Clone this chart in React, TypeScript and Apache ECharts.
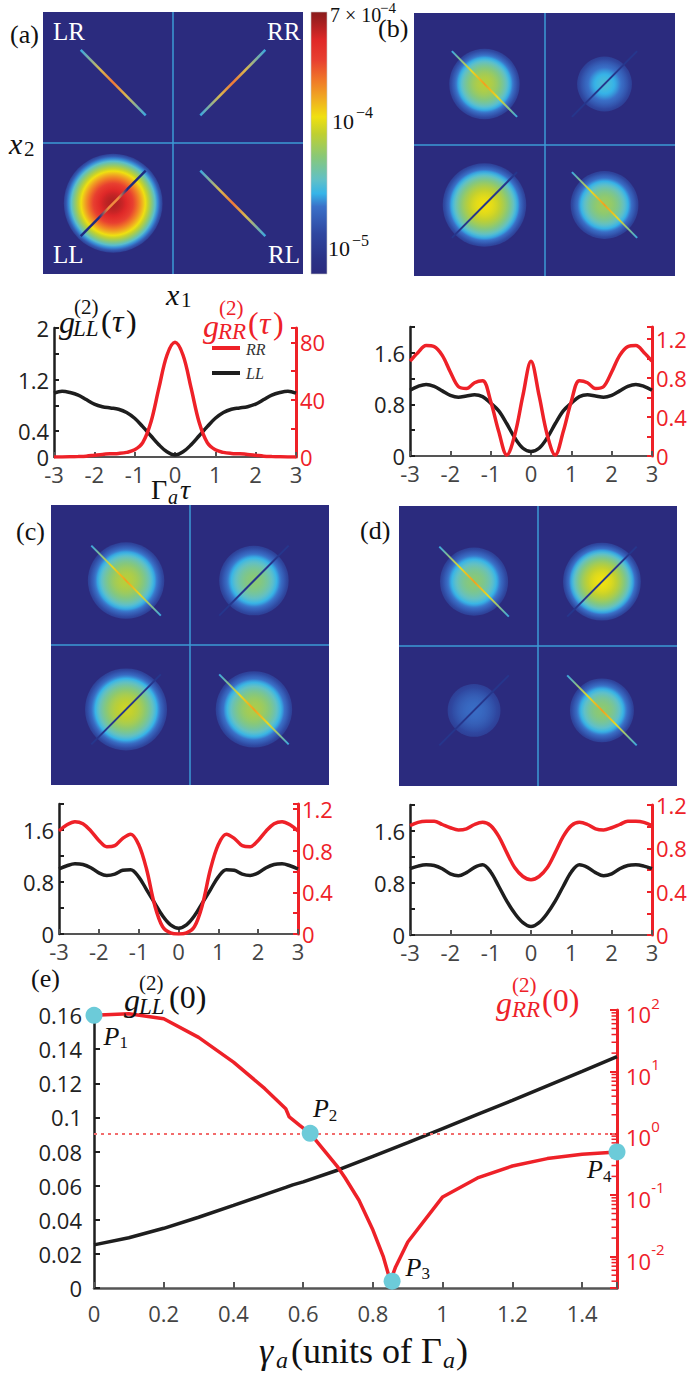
import React, { useEffect, useRef } from 'react';
import * as echarts from 'echarts';

// ---------------- data ----------------
const TAU = [-3, -2.8, -2.6, -2.4, -2.2, -2, -1.8, -1.6, -1.4, -1.2, -1, -0.8, -0.6, -0.4, -0.2, 0, 0.2, 0.4, 0.6, 0.8, 1, 1.2, 1.4, 1.6, 1.8, 2, 2.2, 2.4, 2.6, 2.8, 3];

// panel (a) g2 curves
const LL_A = [0.99, 1.02, 1.0, 0.96, 0.89, 0.82, 0.78, 0.76, 0.74, 0.69, 0.6, 0.47, 0.33, 0.19, 0.08, 0.03, 0.08, 0.19, 0.33, 0.47, 0.6, 0.69, 0.74, 0.76, 0.78, 0.82, 0.89, 0.96, 1.0, 1.02, 0.99];
const RR_A = [0, 0, 0.1, 0.3, 0.6, 1.2, 1.8, 2.2, 2.5, 3.2, 5, 10, 24, 48, 71, 80, 71, 48, 24, 10, 5, 3.2, 2.5, 2.2, 1.8, 1.2, 0.6, 0.3, 0.1, 0, 0];
// panel (b)
const LL_B = [1.02, 1.08, 1.11, 1.08, 1.01, 0.94, 0.91, 0.93, 0.95, 0.92, 0.82, 0.7, 0.5, 0.28, 0.12, 0.07, 0.12, 0.28, 0.5, 0.7, 0.82, 0.92, 0.95, 0.93, 0.91, 0.94, 1.01, 1.08, 1.11, 1.08, 1.02];
const RR_B = [0.97, 1.06, 1.13, 1.12, 1.03, 0.86, 0.71, 0.69, 0.75, 0.77, 0.56, 0.25, 0.01, 0.22, 0.62, 0.97, 0.62, 0.22, 0.01, 0.25, 0.56, 0.77, 0.75, 0.69, 0.71, 0.86, 1.03, 1.12, 1.13, 1.06, 0.97];
// panel (c)
const LL_C = [1.0, 1.05, 1.08, 1.07, 1.02, 0.94, 0.9, 0.92, 0.98, 0.99, 0.88, 0.68, 0.48, 0.28, 0.14, 0.09, 0.14, 0.28, 0.48, 0.68, 0.88, 0.99, 0.98, 0.92, 0.9, 0.94, 1.02, 1.07, 1.08, 1.05, 1.0];
const RR_C = [0.99, 1.05, 1.08, 1.06, 0.99, 0.9, 0.84, 0.85, 0.92, 0.96, 0.86, 0.62, 0.28, 0.07, 0.01, 0.0, 0.01, 0.07, 0.28, 0.62, 0.86, 0.96, 0.92, 0.85, 0.84, 0.9, 0.99, 1.06, 1.08, 1.05, 0.99];
// panel (d)
const LL_D = [1.02, 1.06, 1.08, 1.07, 1.02, 0.94, 0.91, 0.96, 1.04, 1.08, 0.97, 0.75, 0.52, 0.33, 0.19, 0.13, 0.19, 0.33, 0.52, 0.75, 0.97, 1.08, 1.04, 0.96, 0.91, 0.94, 1.02, 1.07, 1.08, 1.06, 1.02];
const RR_D = [1.01, 1.04, 1.05, 1.05, 1.02, 0.99, 0.97, 0.98, 1.02, 1.04, 1.01, 0.91, 0.76, 0.62, 0.54, 0.51, 0.54, 0.62, 0.76, 0.91, 1.01, 1.04, 1.02, 0.98, 0.97, 0.99, 1.02, 1.05, 1.05, 1.04, 1.01];

const RIGHT_MAX = [90, 1.32, 1.25, 1.2];
const RIGHT_INTERVAL = [20, 0.2, 0.2, 0.2];
const RIGHT_LABELS = [[0, 40, 80], [0, 0.4, 0.8, 1.2], [0, 0.4, 0.8, 1.2], [0, 0.4, 0.8, 1.2]];
const LEFT_LABELS = [[0, 0.4, 1.2, 2], [0, 0.8, 1.6], [0, 0.8, 1.6], [0, 0.8, 1.6]];
const X_TICKS_TAU = [-3, -2, -1, 0, 1, 2, 3];

// panel (e)
const GAMMA_RR = [0, 0.1, 0.2, 0.3, 0.4, 0.49, 0.55, 0.56, 0.59, 0.62, 0.66, 0.7, 0.72, 0.76, 0.8, 0.83, 0.85, 0.865, 0.9, 1.0, 1.1, 1.2, 1.3, 1.4, 1.5];
const G2_RR0 = [82, 87, 72, 36, 14.3, 5.3, 2.5, 1.84, 1.35, 1.0, 0.53, 0.28, 0.19, 0.082, 0.027, 0.0099, 0.004, 0.0068, 0.0173, 0.093, 0.189, 0.295, 0.389, 0.457, 0.5];
const GAMMA_LL = [0, 0.1, 0.2, 0.3, 0.4, 0.5, 0.55, 0.57, 0.6, 0.7, 0.8, 0.9, 1.0, 1.1, 1.2, 1.3, 1.4, 1.5];
const G2_LL0 = [0.0253, 0.0295, 0.035, 0.0415, 0.0484, 0.0555, 0.059, 0.0605, 0.0622, 0.0692, 0.0772, 0.0852, 0.0935, 0.1018, 0.11, 0.1185, 0.127, 0.1356];
const P_NAMES = ['1', '2', '3', '4'];
const P_GAMMA = [0, 0.62, 0.855, 1.5];
const P_RR = [82, 1.0, 0.004, 0.5];
const REF_LEVEL = 1;
// minor tick positions of the right log axis of (e)
const RR_MINOR_TICKS = [
  0.004, 0.005, 0.006, 0.007, 0.008, 0.009,
  0.02, 0.03, 0.04, 0.05, 0.06, 0.07, 0.08, 0.09,
  0.2, 0.3, 0.4, 0.5, 0.6, 0.7, 0.8, 0.9,
  2, 3, 4, 5, 6, 7, 8, 9,
  20, 30, 40, 50, 60, 70, 80, 90,
];

// heat maps: quadrants LR, RR, LL, RL
const BLOB_X = [-0.46, 0.46, -0.46, 0.46];
const BLOB_Y = [0.46, 0.46, -0.46, -0.46];
const PEAKS = [
  [0, 0, 5.5e-4, 0],
  [7.5e-5, 3.1e-5, 1.08e-4, 6.2e-5],
  [7.5e-5, 5.4e-5, 8.6e-5, 6.8e-5],
  [5.4e-5, 1.08e-4, 2.1e-5, 5.6e-5],
];
const RADII = [
  [0, 0, 0.38, 0],
  [0.27, 0.21, 0.32, 0.26],
  [0.275, 0.25, 0.295, 0.275],
  [0.245, 0.28, 0.19, 0.23],
];
const STREAK_KIND = [
  ['bright', 'bright', 'mixed', 'bright'],
  ['bright', 'dark', 'dark', 'bright'],
  ['bright', 'dark', 'dark', 'bright'],
  ['bright', 'dark', 'dark', 'bright'],
];
const STREAK_HALF = 0.25;
const EDGE_DENSITY = 1.16e-5;
const CBAR_MIN = 6.6e-6;
const CBAR_MAX = 7e-4;

// ---------------- style ----------------
const SERIF = '"Liberation Serif", "DejaVu Serif", serif';
const SANS = '"Open Sans", "Noto Sans", sans-serif';
const RED = '#ee2128';
const BLACK = '#1e1e1e';
const GREY = '#555555';
const BG = '#2b2b7e';
const CYAN = '#6ccbd9';
const CMAP: [number, string][] = [
  [0, '#2b2b7e'], [0.06, '#2b3387'], [0.155, '#2f47a0'], [0.257, '#3a70c8'], [0.307, '#36b4e8'],
  [0.358, '#60c0c8'], [0.447, '#88c878'], [0.536, '#c0d030'], [0.6, '#f0e010'], [0.663, '#f0b020'],
  [0.74, '#f07828'], [0.816, '#e84030'], [0.892, '#e02828'], [0.968, '#a01f20'], [1, '#8a1c1c'],
];

const HEAT_GRIDS = [
  { left: 43, top: 12, width: 260, height: 262 },
  { left: 414, top: 13, width: 261, height: 263 },
  { left: 51, top: 505, width: 278, height: 280 },
  { left: 399, top: 506, width: 278, height: 280 },
];
const LINE_GRIDS = [
  { left: 54, top: 328, width: 242, height: 129 },
  { left: 410, top: 327, width: 242, height: 129 },
  { left: 59, top: 804, width: 239, height: 130 },
  { left: 410, top: 805, width: 242, height: 130 },
];
const E_GRID = { left: 94, top: 1010, width: 523, height: 278 };

function hexRgb(h: string) {
  return [parseInt(h.slice(1, 3), 16), parseInt(h.slice(3, 5), 16), parseInt(h.slice(5, 7), 16)];
}
function cmap(f: number) {
  const t = Math.max(0, Math.min(1, f));
  for (let i = 1; i < CMAP.length; i++) {
    if (t <= CMAP[i][0]) {
      const [a, ca] = CMAP[i - 1];
      const [b, cb] = CMAP[i];
      const u = (t - a) / (b - a);
      const A = hexRgb(ca), B = hexRgb(cb);
      return `rgb(${Math.round(A[0] + (B[0] - A[0]) * u)},${Math.round(A[1] + (B[1] - A[1]) * u)},${Math.round(A[2] + (B[2] - A[2]) * u)})`;
    }
  }
  return CMAP[CMAP.length - 1][1];
}
function fOf(v: number) {
  return (Math.log10(v) - Math.log10(CBAR_MIN)) / (Math.log10(CBAR_MAX) - Math.log10(CBAR_MIN));
}
function blobGradient(peak: number) {
  const fp = fOf(peak), fe = fOf(EDGE_DENSITY);
  const stops = [];
  for (let i = 0; i <= 20; i++) {
    const t = i / 20;
    stops.push({ offset: t, color: cmap(fp - (fp - fe) * t * t) });
  }
  return new echarts.graphic.RadialGradient(0.5, 0.5, 0.5, stops);
}
function streakColor(kind: string, big: boolean) {
  if (kind === 'dark') return '#26368c';
  if (kind === 'mixed')
    return new echarts.graphic.LinearGradient(0, 0, 1, 0, [
      { offset: 0, color: '#1e2a80' }, { offset: 0.28, color: '#1e2a80' }, { offset: 0.42, color: '#f08a40' },
      { offset: 0.58, color: '#f08a40' }, { offset: 0.72, color: '#1e2a80' }, { offset: 1, color: '#1e2a80' },
    ]);
  return new echarts.graphic.LinearGradient(0, 0, 1, 0, [
    { offset: 0, color: '#3aa8e0' }, { offset: 0.3, color: big ? '#d8b850' : '#e8d820' },
    { offset: 0.5, color: big ? '#f07838' : '#f0a020' }, { offset: 0.7, color: big ? '#d8b850' : '#e8d820' },
    { offset: 1, color: '#3aa8e0' },
  ]);
}

type Part = [string, number, number, number, boolean?, string?];
function mtext(x: number, y: number, parts: Part[], fill: string) {
  return {
    type: 'group', x, y, silent: true, z: 100,
    children: parts.map((p) => ({
      type: 'text', x: p[1], y: p[2], z: 100,
      style: {
        text: p[0], fontSize: p[3], fontStyle: p[4] ? 'italic' : 'normal', fontFamily: p[5] || SERIF,
        fill, align: 'left', verticalAlign: 'middle',
      },
    })),
  };
}
const fmt = (v: number) => String(+v.toFixed(3));

function buildOption() {
  const grid: any[] = [];
  const xAxis: any[] = [];
  const yAxis: any[] = [];
  const series: any[] = [];

  // heat maps
  HEAT_GRIDS.forEach((g, k) => {
    grid.push({ ...g, show: true, backgroundColor: BG, borderWidth: 0 });
    xAxis.push({ type: 'value', gridIndex: k, min: -1, max: 1, show: false });
    yAxis.push({ type: 'value', gridIndex: k, min: -1, max: 1, show: false });
    const data: any[] = [];
    PEAKS[k].forEach((p, i) => {
      if (p > 0)
        data.push({
          value: [BLOB_X[i], BLOB_Y[i], p],
          symbolSize: RADII[k][i] * g.width,
          itemStyle: { color: blobGradient(p), opacity: 1 },
        });
    });
    series.push({
      type: 'scatter', xAxisIndex: k, yAxisIndex: k, silent: true, data, z: 2,
      markLine: {
        silent: true, symbol: ['none', 'none'], label: { show: false },
        lineStyle: { color: '#3d9bd6', width: 1.5, type: 'solid' },
        data: [{ xAxis: 0 }, { yAxis: 0 }],
      },
    });
    STREAK_KIND[k].forEach((kind, i) => {
      const cx = BLOB_X[i], cy = BLOB_Y[i], h = STREAK_HALF;
      const back = i === 0 || i === 3; // "\" direction
      const pts = back ? [[cx - h, cy + h], [cx + h, cy - h]] : [[cx - h, cy - h], [cx + h, cy + h]];
      series.push({
        type: 'line', xAxisIndex: k, yAxisIndex: k, silent: true, z: 3, symbol: 'none',
        data: pts, lineStyle: { width: k === 0 ? 2.5 : 2, color: streakColor(kind, k === 0) },
      });
    });
  });

  // small g2(tau) plots
  const LLS = [LL_A, LL_B, LL_C, LL_D];
  const RRS = [RR_A, RR_B, RR_C, RR_D];
  LINE_GRIDS.forEach((g, j) => {
    const gi = 4 + j;
    grid.push({ ...g });
    xAxis.push({
      type: 'value', gridIndex: gi, min: -3, max: 3, interval: 1,
      axisLine: { onZero: false, lineStyle: { color: GREY, width: 2 } },
      axisTick: { inside: true, length: 5, lineStyle: { color: GREY, width: 2 } },
      axisLabel: {
        color: '#444', fontFamily: SANS, fontSize: 22, margin: 6,
        formatter: (v: number) => (X_TICKS_TAU.includes(Math.round(v)) ? String(Math.round(v)) : ''),
      },
      splitLine: { show: false },
    });
    yAxis.push({
      type: 'value', gridIndex: gi, min: 0, max: 2, interval: 0.4, position: 'left',
      axisLine: { show: true, onZero: false, lineStyle: { color: BLACK, width: 2.5 } },
      axisTick: { show: true, inside: true, length: 5, lineStyle: { color: BLACK, width: 2 } },
      axisLabel: {
        color: '#222', fontFamily: SANS, fontSize: 22, margin: 5, showMaxLabel: true,
        formatter: (v: number) => (LEFT_LABELS[j].some((l) => Math.abs(l - v) < 1e-6) ? fmt(v) : ''),
      },
      splitLine: { show: false },
    });
    yAxis.push({
      type: 'value', gridIndex: gi, min: 0, max: RIGHT_MAX[j], interval: RIGHT_INTERVAL[j], position: 'right',
      axisLine: { show: true, onZero: false, lineStyle: { color: RED, width: 3 } },
      axisTick: { show: true, inside: true, length: 5, lineStyle: { color: RED, width: 2 } },
      axisLabel: {
        color: RED, fontFamily: SANS, fontSize: 22, margin: 4,
        formatter: (v: number) => (RIGHT_LABELS[j].some((l) => Math.abs(l - v) < 1e-6) ? fmt(v) : ''),
      },
      splitLine: { show: false },
    });
    const yl = 4 + 2 * j;
    series.push({
      type: 'line', xAxisIndex: gi, yAxisIndex: yl, symbol: 'none', smooth: 0.35, silent: true, z: 3,
      data: TAU.map((t, i) => [t, LLS[j][i]]), lineStyle: { color: BLACK, width: 3.5 },
    });
    series.push({
      type: 'line', xAxisIndex: gi, yAxisIndex: yl + 1, symbol: 'none', smooth: 0.35, silent: true, z: 4,
      data: TAU.map((t, i) => [t, RRS[j][i]]), lineStyle: { color: RED, width: 3.5 },
    });
  });

  // panel (e)
  grid.push({ ...E_GRID });
  xAxis.push({
    type: 'value', gridIndex: 8, min: 0, max: 1.5, interval: 0.2,
    axisLine: { onZero: false, lineStyle: { color: GREY, width: 2.5 } },
    axisTick: { inside: true, length: 6, lineStyle: { color: GREY, width: 2 } },
    axisLabel: {
      color: '#444', fontFamily: SANS, fontSize: 22, margin: 14,
      formatter: (v: number) => (v > 1.45 ? '' : fmt(v)),
    },
    splitLine: { show: false },
  });
  yAxis.push({
    type: 'value', gridIndex: 8, min: 0, max: 0.163, interval: 0.02, position: 'left',
    axisLine: { show: true, onZero: false, lineStyle: { color: BLACK, width: 2.5 } },
    axisTick: { show: true, inside: true, length: 6, lineStyle: { color: BLACK, width: 2 } },
    axisLabel: {
      color: '#222', fontFamily: SANS, fontSize: 22, margin: 12,
      formatter: (v: number) => (v > 0.1605 ? '' : fmt(v)),
    },
    splitLine: { show: false },
  });
  yAxis.push({
    type: 'log', logBase: 10, gridIndex: 8, min: 0.0031, max: 100, position: 'right',
    axisLine: { show: true, onZero: false, lineStyle: { color: RED, width: 3 } },
    axisTick: { show: true, inside: true, length: 7, lineStyle: { color: RED, width: 2 } },
    axisLabel: {
      color: RED, margin: 9,
      formatter: (v: number) => {
        const e = Math.log10(v);
        const r = Math.round(e);
        if (Math.abs(e - r) > 1e-6) return '';
        return `{b|10}{s|${r}}`;
      },
      rich: {
        b: { fontSize: 22, fontFamily: SANS, color: RED, lineHeight: 30, verticalAlign: 'bottom' },
        s: { fontSize: 15, fontFamily: SANS, color: RED, lineHeight: 16, verticalAlign: 'top' },
      },
    },
    splitLine: { show: false },
  });
  series.push({
    type: 'scatter', xAxisIndex: 8, yAxisIndex: 13, silent: true, clip: false, z: 5,
    symbol: 'rect', symbolSize: [5, 1.5], symbolOffset: [-3, 0],
    itemStyle: { color: RED, opacity: 1 },
    data: RR_MINOR_TICKS.map((v) => [1.5, v]),
  });
  series.push({
    type: 'line', xAxisIndex: 8, yAxisIndex: 12, symbol: 'none', silent: true, z: 3,
    data: GAMMA_LL.map((g, i) => [g, G2_LL0[i]]), lineStyle: { color: BLACK, width: 3.5 },
  });
  series.push({
    type: 'line', xAxisIndex: 8, yAxisIndex: 13, symbol: 'none', silent: true, z: 4,
    data: GAMMA_RR.map((g, i) => [g, G2_RR0[i]]), lineStyle: { color: RED, width: 3.5 },
    markLine: {
      silent: true, symbol: ['none', 'none'], label: { show: false },
      lineStyle: { color: '#f26b6b', width: 2, type: [3, 4] },
      data: [{ yAxis: REF_LEVEL }],
    },
  });
  const pLabelPos: any[] = [
    { position: 'right', offset: [-4, 22] },
    { position: 'top', offset: [15, 4] },
    { position: 'right', offset: [0, -13] },
    { position: 'left', offset: [8, 19] },
  ];
  series.push({
    type: 'scatter', xAxisIndex: 8, yAxisIndex: 13, symbolSize: 17, clip: false, silent: true, z: 6,
    itemStyle: { color: CYAN, opacity: 1 },
    data: P_GAMMA.map((g, i) => ({
      value: [g, P_RR[i]], name: P_NAMES[i],
      label: { show: true, ...pLabelPos[i] },
    })),
    label: {
      show: true, distance: 5,
      formatter: (p: any) => `{p|P}{s|${p.name}}`,
      rich: {
        p: { fontSize: 26, fontFamily: SERIF, fontStyle: 'italic', color: '#111', lineHeight: 28, verticalAlign: 'top' },
        s: { fontSize: 17, fontFamily: SERIF, color: '#111', lineHeight: 17, verticalAlign: 'bottom' },
      },
    },
  });

  // graphics: labels, colorbar, legend
  const cbStops = CMAP.map(([o, c]) => ({ offset: o, color: c }));
  const graphic: any[] = [
    {
      type: 'rect', z: 50, silent: true,
      shape: { x: 311, y: 12, width: 16, height: 262 },
      style: { fill: new echarts.graphic.LinearGradient(0, 1, 0, 0, cbStops), stroke: '#c8c8c8', lineWidth: 0.6 },
    },
    mtext(330, 15, [['7 × 10', 0, 0, 20], ['−4', 50, -7, 15]], '#111'),
    mtext(332, 121, [['10', 0, 0, 22], ['−4', 24, -9, 16]], '#111'),
    mtext(328, 248, [['10', 0, 0, 22], ['−5', 24, -8, 16]], '#111'),
    mtext(10, 34, [['(a)', 0, 0, 26]], '#111'),
    mtext(378, 28, [['(b)', 0, 0, 26]], '#111'),
    mtext(16, 531, [['(c)', 0, 0, 26]], '#111'),
    mtext(360, 530, [['(d)', 0, 0, 26]], '#111'),
    mtext(31, 978, [['(e)', 0, 0, 26]], '#111'),
    mtext(53, 31, [['LR', 0, 0, 25]], '#ffffff'),
    mtext(267, 31, [['RR', 0, 0, 25]], '#ffffff'),
    mtext(53, 254, [['LL', 0, 0, 25]], '#ffffff'),
    mtext(268, 254, [['RL', 0, 0, 25]], '#ffffff'),
    mtext(9, 143, [['x', 0, 0, 30, true], ['2', 15, 6, 21]], '#111'),
    mtext(166, 294, [['x', 0, 0, 30, true], ['1', 15, 6, 21]], '#111'),
    mtext(151, 489, [['Γ', 0, 0, 28], ['a', 17, 8, 20, true], ['τ', 29, 0, 28, true]], '#111'),
    mtext(59, 322, [['g', 0, 0, 32, true], ['(2)', 15, -15, 21], ['LL', 14, 6, 23, true], ['(', 42, -1, 32], ['τ', 53, -1, 32, true], [')', 67, -1, 32]], '#111'),
    mtext(203, 326, [['g', 0, 0, 32, true], ['(2)', 16, -18, 21], ['RR', 15, 5, 23, true], ['(', 45, -3, 32], ['τ', 56, -3, 32, true], [')', 70, -3, 32]], RED),
    { type: 'line', z: 60, silent: true, shape: { x1: 212, y1: 348, x2: 240, y2: 348 }, style: { stroke: RED, lineWidth: 4 } },
    { type: 'line', z: 60, silent: true, shape: { x1: 212, y1: 373, x2: 240, y2: 373 }, style: { stroke: BLACK, lineWidth: 4 } },
    mtext(246, 349, [['RR', 0, 0, 16, true]], '#333'),
    mtext(246, 373, [['LL', 0, 0, 16, true]], '#333'),
    mtext(124, 1000, [['g', 0, 0, 32, true], ['(2)', 15, -17, 21], ['LL', 15, 6, 23, true], ['(0)', 45, -3, 32]], '#111'),
    mtext(496, 1003, [['g', 0, 0, 32, true], ['(2)', 16, -18, 21], ['RR', 16, 6, 23, true], ['(0)', 46, -3, 32]], RED),
    mtext(259, 1351, [['γ', 0, 0, 36, true], ['a', 17, 9, 24, true], ['(units of Γ', 32, 0, 36], ['a', 184, 9, 24, true], [')', 197, 0, 36]], '#111'),
  ];

  return { animation: false, backgroundColor: '#ffffff', grid, xAxis, yAxis, series, graphic };
}

export default function App() {
  const ref = useRef<HTMLDivElement>(null);
  useEffect(() => {
    const chart = echarts.init(ref.current as HTMLDivElement, null, { renderer: 'svg', width: 692, height: 1375 });
    chart.setOption(buildOption() as any);
    return () => chart.dispose();
  }, []);
  return <div ref={ref} style={{ position: 'absolute', left: 0, top: 0, width: 692, height: 1375, background: '#fff' }} />;
}
